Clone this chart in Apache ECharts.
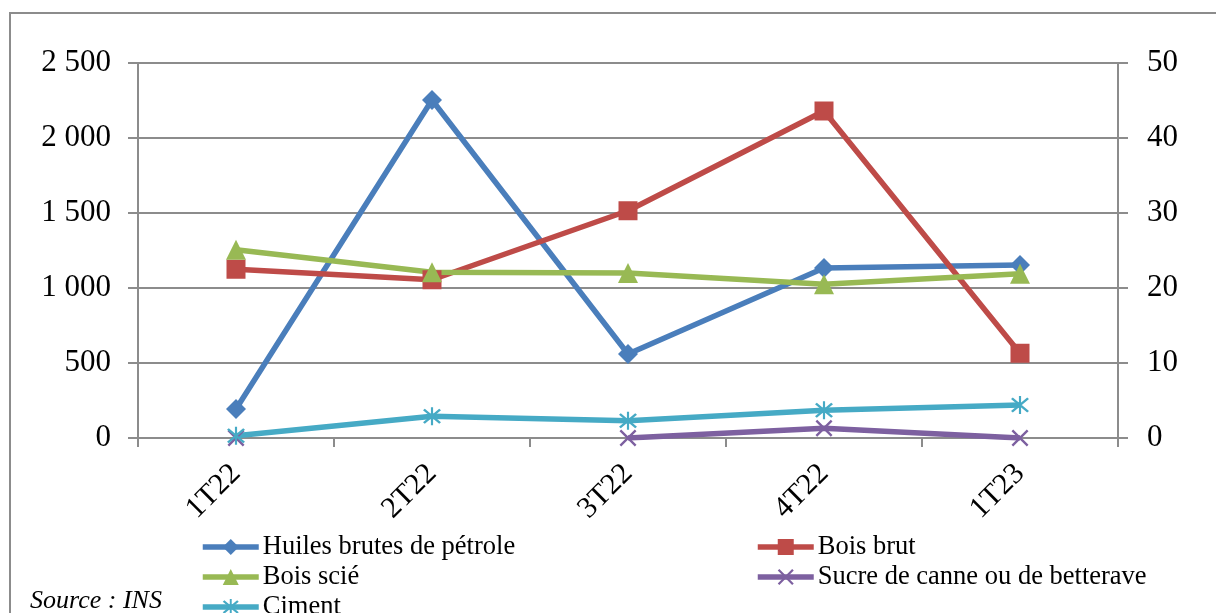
<!DOCTYPE html>
<html>
<head>
<meta charset="utf-8">
<script src="https://cdn.jsdelivr.net/npm/echarts@6/dist/echarts.min.js"></script>
<style>
  html, body { margin: 0; padding: 0; background: #fff; }
  #chart { width: 1216px; height: 613px; }
</style>
</head>
<body>
<div id="chart"></div>
<script>
// trimestres
var categories = ["1T22", "2T22", "3T22", "4T22", "1T23"];

// axe de gauche
var huiles = [193, 2253, 560, 1133, 1153];
// axe de droite
var boisBrut = [22.5, 21.1, 30.3, 43.6, 11.3];
var boisScie = [25.1, 22.1, 22.0, 20.5, 21.9];
var sucre = [0, null, 0, 1.3, 0];
var ciment = [0.3, 2.9, 2.3, 3.7, 4.4];

var leftTicks = { min: 0, max: 2500, interval: 500 };
var rightTicks = { min: 0, max: 50, interval: 10 };

var FONT = "Liberation Serif";
var GRID_COLOR = "#8c8c8c";

// marqueurs Excel (croix et asterisque) en polygones
var crossPath = "path://M0,1 L1,0 L10,9 L9,10 Z M9,0 L10,1 L1,10 L0,9 Z";
var starPath = "path://M0,1 L1,0 L10,9 L9,10 Z M9,0 L10,1 L1,10 L0,9 Z M4.4,-1 L5.6,-1 L5.6,11 L4.4,11 Z";

function frNumber(v) {
  return String(v).replace(/\B(?=(\d{3})+(?!\d))/g, " ");
}

function makeSeries(name, data, color, symbol, size, axis) {
  return {
    name: name,
    type: "line",
    yAxisIndex: axis,
    data: data,
    symbol: symbol,
    symbolSize: size,
    connectNulls: false,
    lineStyle: { width: 5.5, color: color },
    itemStyle: { color: color },
    emphasis: { disabled: true },
    animation: false
  };
}

var legendBase = {
  orient: "vertical",
  top: 532,
  height: 140,
  padding: 0,
  itemWidth: 56,
  itemHeight: 20,
  itemGap: 0,
  lineStyle: { width: 5.5 },
  textStyle: {
    fontSize: 26.5,
    lineHeight: 30,
    color: "#000",
    fontFamily: FONT,
    padding: [0, 0, 0, -1]
  }
};

var chart = echarts.init(document.getElementById("chart"), null, { renderer: "canvas" });

var option = {
  backgroundColor: "#fff",
  animation: false,
  textStyle: { fontFamily: FONT },
  grid: { left: 138, right: 98, top: 63, bottom: 175 },
  xAxis: {
    type: "category",
    data: categories,
    boundaryGap: true,
    axisLine: { lineStyle: { color: GRID_COLOR, width: 2 } },
    axisTick: { show: true, length: 9, lineStyle: { color: GRID_COLOR, width: 2 } },
    axisLabel: { rotate: 45, margin: 31, fontSize: 30, color: "#000", fontFamily: FONT }
  },
  yAxis: [
    {
      type: "value",
      min: leftTicks.min, max: leftTicks.max, interval: leftTicks.interval,
      axisLine: { show: true, lineStyle: { color: GRID_COLOR, width: 2 } },
      axisTick: { show: true, length: 10, lineStyle: { color: GRID_COLOR, width: 2 } },
      splitLine: { lineStyle: { color: GRID_COLOR, width: 2 } },
      axisLabel: { fontSize: 31, color: "#000", margin: 27, fontFamily: FONT, formatter: frNumber }
    },
    {
      type: "value",
      position: "right",
      min: rightTicks.min, max: rightTicks.max, interval: rightTicks.interval,
      axisLine: { show: true, lineStyle: { color: GRID_COLOR, width: 2 } },
      axisTick: { show: true, length: 10, lineStyle: { color: GRID_COLOR, width: 2 } },
      splitLine: { show: false },
      axisLabel: { fontSize: 31, color: "#000", margin: 29, fontFamily: FONT }
    }
  ],
  legend: [
    Object.assign({}, legendBase, {
      left: 200,
      data: ["Huiles brutes de pétrole", "Bois scié", "Ciment"]
    }),
    Object.assign({}, legendBase, {
      left: 755,
      data: ["Bois brut", "Sucre de canne ou de betterave"]
    })
  ],
  graphic: [
    {
      type: "rect",
      shape: { x: 10, y: 13, width: 1230, height: 640 },
      style: { fill: "none", stroke: "#8c8c8c", lineWidth: 2 },
      silent: true
    },
    {
      type: "text",
      left: 30,
      top: 588,
      style: { text: "Source : INS", font: "italic 26px " + FONT, fill: "#000" }
    }
  ],
  series: [
    makeSeries("Huiles brutes de pétrole", huiles, "#4A7EBB", "diamond", 20, 0),
    makeSeries("Bois brut", boisBrut, "#BE4B48", "rect", 19, 1),
    makeSeries("Bois scié", boisScie, "#98B954", "triangle", 20, 1),
    makeSeries("Sucre de canne ou de betterave", sucre, "#7D60A0", crossPath, 17, 1),
    makeSeries("Ciment", ciment, "#46AAC5", starPath, 18, 1)
  ]
};

chart.setOption(option);
</script>
</body>
</html>
